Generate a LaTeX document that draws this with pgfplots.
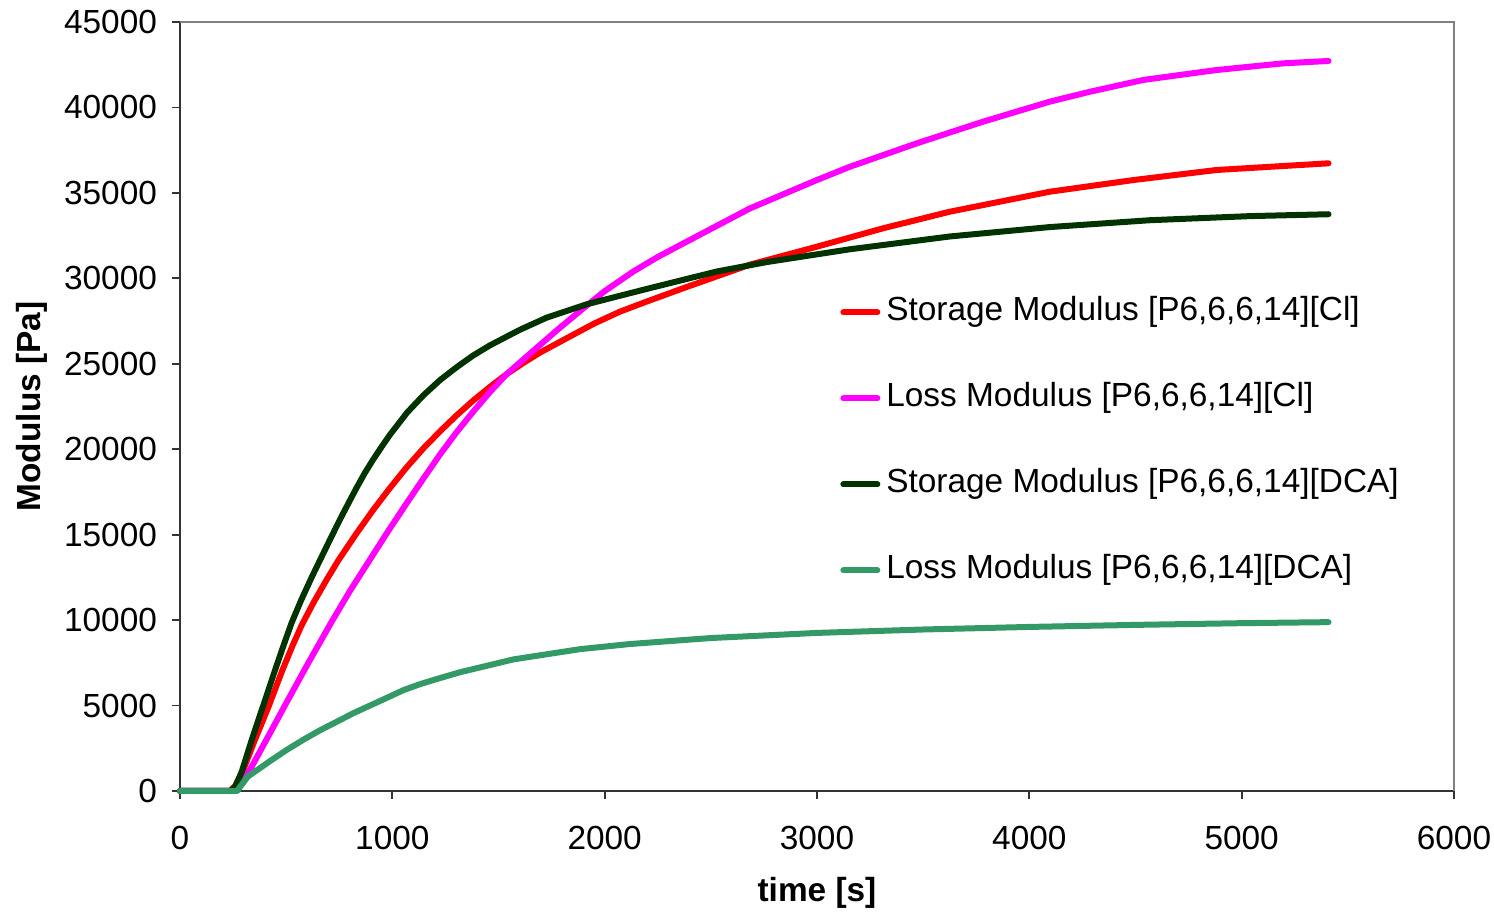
\documentclass[border=0pt]{standalone}
\usepackage{fontspec}
\setmainfont{Liberation Sans}
\usepackage{pgfplots}
\pgfplotsset{compat=1.18}
\definecolor{dkgreen}{HTML}{003300}
\definecolor{seagreen}{HTML}{339966}
\definecolor{pinkline}{HTML}{FF00FF}
\definecolor{redline}{HTML}{FF0000}
\newcommand\cf{\fontsize{16.7}{20}\selectfont}

\pgfplotstableread{
t G
0 0
240 0
262 300
290 1100
338 3000
392 5000
447 7050
490 8600
526 9850
570 11150
620 12500
659 13500
714 14900
754 15900
800 17000
832 17750
870 18600
910 19400
950 20150
989 20850
1070 22150
1146 23150
1225 24050
1303 24800
1380 25480
1460 26080
1601 26990
1727 27700
1915 28480
2214 29430
2528 30400
2763 30950
3155 31700
3626 32450
4097 33000
4568 33400
5039 33640
5409 33750
}\storagedca

\pgfplotstableread{
t G
0 0
235 0
260 300
300 1300
350 2900
419 5000
480 7000
530 8500
573 9700
630 11050
690 12350
746 13500
830 15050
910 16450
990 17750
1068 18950
1150 20100
1225 21050
1300 21950
1381 22850
1460 23650
1539 24400
1617 25050
1695 25650
1837 26600
1950 27350
2072 28050
2200 28650
2370 29420
2684 30800
2999 31850
3312 32930
3626 33900
4097 35070
4490 35750
4882 36340
5409 36730
}\storagecl

\pgfplotstableread{
t G
0 0
255 0
275 150
300 600
350 1700
420 3300
494 5000
600 7400
714 9900
800 11700
895 13550
980 15200
1068 16850
1150 18350
1225 19700
1300 20950
1381 22200
1460 23350
1539 24400
1617 25250
1700 26150
1774 26950
1900 28250
2000 29250
2135 30400
2250 31250
2370 32040
2684 34090
2999 35750
3155 36530
3470 37900
3783 39170
4097 40340
4286 40920
4537 41610
4882 42190
5196 42580
5409 42720
}\losscl

\pgfplotstableread{
t G
0 0
270 0
283 250
320 850
424 1750
502 2400
581 3000
659 3550
738 4050
816 4550
895 5000
974 5450
1052 5900
1130 6250
1209 6550
1319 6950
1570 7700
1884 8300
2119 8600
2500 8950
3000 9250
3500 9450
4000 9600
4500 9720
5000 9820
5409 9880
}\lossdca

\begin{document}
\begin{tikzpicture}
\begin{axis}[
    scale only axis,
    width=637pt, height=384.5pt,
    xmin=0, xmax=6000, ymin=0, ymax=45000,
    xtick={0,1000,...,6000},
    ytick={0,5000,...,45000},
    axis lines*=left,
    axis line style={black!80, line width=0.9pt},
    tick style={black!80, line width=0.9pt},
    tick align=outside,
    major tick length=4pt,
    clip=false,
    scaled ticks=false,
    /pgf/number format/1000 sep={},
    /pgf/number format/assume math mode=true,
    tick label style={font=\cf},
    xticklabel style={yshift=-10pt},
    yticklabel style={xshift=-4pt},
    xlabel={\textbf{time [s]}},
    ylabel={\textbf{Modulus [Pa]}},
    label style={font=\cf},
    x label style={at={(axis description cs:0.5,-0.1326)}, anchor=center},
    y label style={at={(axis description cs:-0.1165,0.5)}, anchor=center},
    legend style={draw=none, fill=none, font=\cf, at={(0.518,0.4545)}, anchor=west,
        inner sep=0pt, row sep=27pt,
        nodes={inner sep=0pt, text height=12pt, text depth=4pt}},
    legend cell align=left,
    legend image code/.code={\draw[#1, line width=3pt] (1.5pt,0pt) -- (18.5pt,0pt);},
    every axis plot/.append style={line width=3pt, line join=round, line cap=round},
]
\addplot[redline, no marks] table[x=t, y=G] {\storagecl};
\addlegendentry{\hspace{3pt}Storage Modulus [P6,6,6,14][Cl]}
\addplot[pinkline, no marks] table[x=t, y=G] {\losscl};
\addlegendentry{\hspace{3pt}Loss Modulus [P6,6,6,14][Cl]}
\addplot[dkgreen, no marks] table[x=t, y=G] {\storagedca};
\addlegendentry{\hspace{3pt}Storage Modulus [P6,6,6,14][DCA]}
\addplot[seagreen, no marks] table[x=t, y=G] {\lossdca};
\addlegendentry{\hspace{3pt}Loss Modulus [P6,6,6,14][DCA]}
\draw[black!50, line width=0.9pt] (rel axis cs:0,1) -- (rel axis cs:1,1) -- (rel axis cs:1,0);
\coordinate (bl) at (rel axis cs:0,0);
\coordinate (tr) at (rel axis cs:1,1);
\end{axis}
\pgfresetboundingbox
\path[use as bounding box] ([shift={(-90pt,-60.5pt)}]bl) rectangle ([shift={(20pt,11pt)}]tr);
\end{tikzpicture}
\end{document}
